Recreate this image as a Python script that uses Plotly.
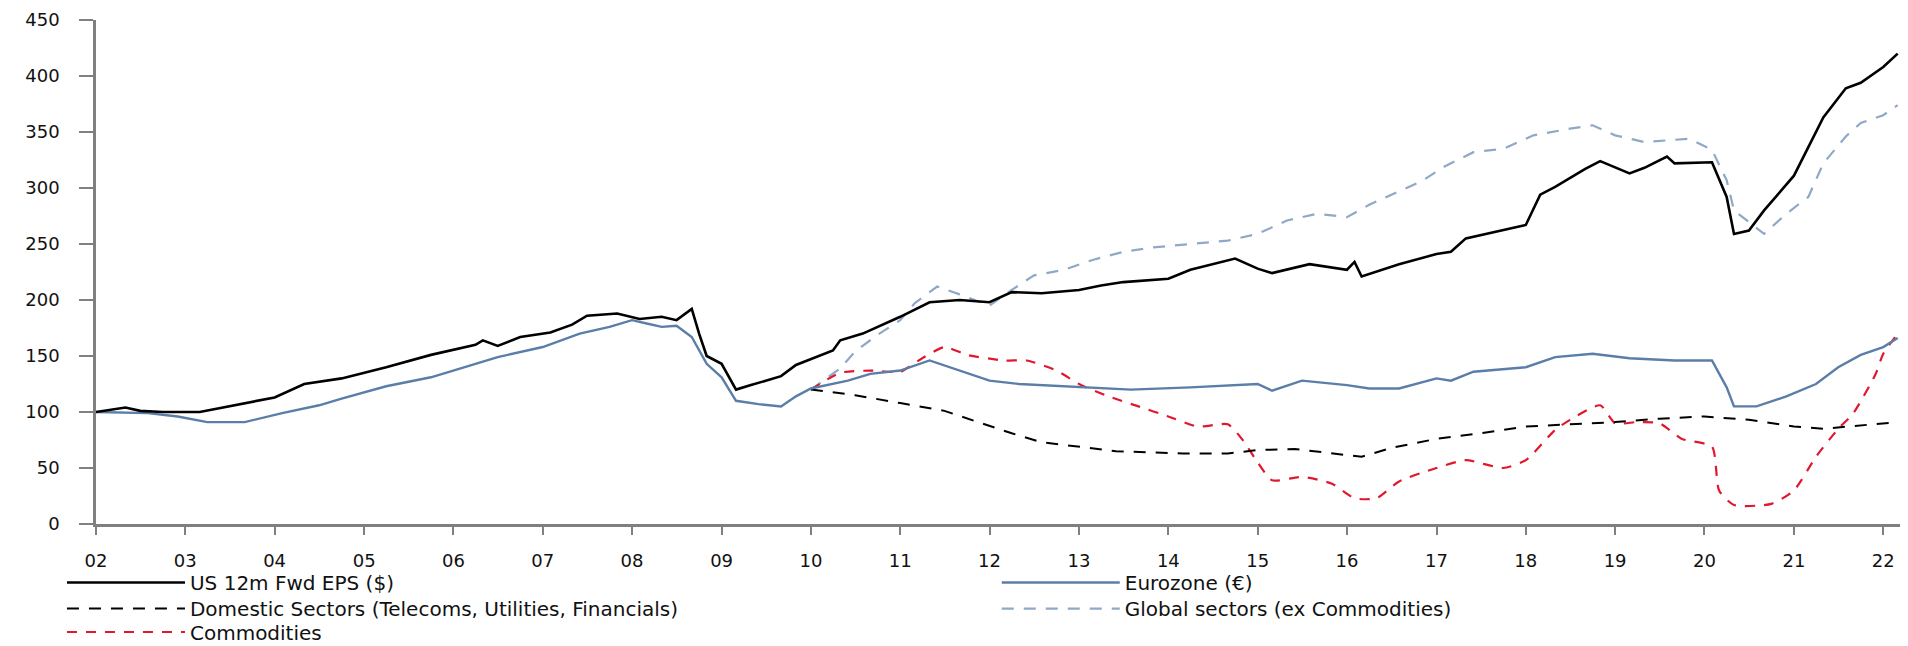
import plotly.graph_objects as go

# ---------------- data ----------------
us_dates = ["2002-01","2002-03","2002-05","2002-07","2002-10","2003-03","2003-07","2004-01","2004-05","2004-10",
            "2005-04","2005-10","2006-04","2006-05","2006-07","2006-10","2007-02","2007-05","2007-07","2007-11",
            "2008-02","2008-05","2008-07","2008-09","2008-10","2008-11","2009-01","2009-03","2009-05","2009-09",
            "2009-11","2010-04","2010-05","2010-08","2011-01","2011-05","2011-09","2012-01","2012-04","2012-08",
            "2013-01","2013-04","2013-07","2014-01","2014-04","2014-10","2015-01","2015-03","2015-08","2016-01",
            "2016-02","2016-03","2016-08","2017-01","2017-03","2017-05","2018-01","2018-03","2018-05","2018-09",
            "2018-11","2019-03","2019-05","2019-08","2019-09","2020-02","2020-04","2020-05","2020-07","2020-09",
            "2021-01","2021-05","2021-08","2021-10","2022-01","2022-03"]
us_vals = [100,102,104,101,100,100,105,113,125,130,
           140,151,160,164,159,167,171,178,186,188,
           183,185,182,192,170,150,143,120,124,132,
           142,155,164,170,185,198,200,198,207,206,
           209,213,216,219,227,237,228,224,232,227,
           234,221,232,241,243,255,267,294,301,317,
           324,313,318,328,322,323,292,259,262,280,
           311,363,389,394,408,420]

ez_dates = ["2002-01","2002-08","2002-12","2003-04","2003-09","2004-02","2004-07","2004-10","2005-04","2005-10",
            "2006-04","2006-07","2007-01","2007-06","2007-10","2008-01","2008-03","2008-05","2008-07","2008-09",
            "2008-11","2009-01","2009-03","2009-06","2009-09","2009-11","2010-01","2010-06","2010-09","2011-01",
            "2011-05","2011-08","2012-01","2012-05","2013-01","2013-08","2014-04","2014-10","2015-01","2015-03",
            "2015-07","2016-01","2016-04","2016-08","2017-01","2017-03","2017-06","2018-01","2018-05","2018-10",
            "2019-03","2019-09","2020-02","2020-04","2020-05","2020-08","2020-12","2021-04","2021-07","2021-10",
            "2022-01","2022-03"]
ez_vals = [100,99,96,91,91,99,106,112,123,131,
           143,149,158,170,176,182,179,176,177,167,
           143,131,110,107,105,114,121,128,134,137,
           146,139,128,125,122,120,122,124,125,119,
           128,124,121,121,130,128,136,140,149,152,
           148,146,146,122,105,105,114,125,140,151,
           158,166]

dom_dates = ["2010-01","2010-07","2011-01","2011-07","2011-11","2012-04","2012-08","2013-01","2013-06","2014-03",
             "2014-09","2015-01","2015-06","2016-03","2016-07","2017-01","2017-07","2018-01","2018-07","2019-01",
             "2019-07","2020-01","2020-07","2021-01","2021-05","2022-01","2022-03"]
dom_vals = [120,115,108,101,92,81,73,69,65,63,
            63,66,67,60,68,76,81,87,89,91,
            94,96,93,87,85,90,91]

glob_dates = ["2010-01","2010-05","2010-07","2010-10","2011-01","2011-03","2011-06","2011-09","2012-01","2012-04",
              "2012-07","2012-11","2013-03","2013-07","2013-11","2014-04","2014-09","2015-01","2015-05","2015-09",
              "2016-01","2016-04","2016-07","2016-11","2017-02","2017-06","2017-10","2018-02","2018-07","2018-10",
              "2019-01","2019-05","2019-11","2020-02","2020-04","2020-05","2020-09","2020-12","2021-03","2021-05",
              "2021-08","2021-10","2022-01","2022-03"]
glob_vals = [120,139,154,169,182,197,212,205,195,209,
             222,227,236,243,247,250,253,259,271,277,
             274,285,294,306,319,332,335,347,353,356,
             347,341,344,334,307,280,259,277,292,322,
             346,358,365,374]

com_dates = ["2010-01","2010-05","2010-09","2011-01","2011-04","2011-07","2011-10","2012-03","2012-06","2012-10",
             "2013-01","2013-05","2013-09","2014-01","2014-05","2014-09","2014-11","2015-01","2015-03","2015-07",
             "2015-11","2016-02","2016-05","2016-08","2017-01","2017-05","2017-10","2018-01","2018-05","2018-07",
             "2018-11","2019-01","2019-04","2019-07","2019-10","2020-02","2020-03","2020-05","2020-10","2021-01",
             "2021-04","2021-07","2021-09","2021-12","2022-01","2022-03"]
com_vals = [120,135,137,136,148,158,151,146,146,137,
            125,114,105,96,87,89,75,55,39,42,
            36,23,23,38,50,57,50,57,84,93,
            106,90,91,90,76,69,30,17,18,30,
            60,85,99,134,152,170]

year_ticks = ["2002-01-01","2003-01-01","2004-01-01","2005-01-01","2006-01-01","2007-01-01","2008-01-01",
              "2009-01-01","2010-01-01","2011-01-01","2012-01-01","2013-01-01","2014-01-01","2015-01-01",
              "2016-01-01","2017-01-01","2018-01-01","2019-01-01","2020-01-01","2021-01-01","2022-01-01"]
year_labels = ["02","03","04","05","06","07","08","09","10","11","12","13","14","15","16","17","18","19","20","21","22"]
y_ticks = [0, 50, 100, 150, 200, 250, 300, 350, 400, 450]

names = ["US 12m Fwd EPS ($)", "Eurozone (\u20ac)", "Domestic Sectors (Telecoms, Utilities, Financials)",
         "Global sectors (ex Commodities)", "Commodities"]

# ---------------- figure ----------------
fig = go.Figure()
fig.add_trace(go.Scatter(x=glob_dates, y=glob_vals, name=names[3], mode="lines", legend="legend4",
                         line=dict(color="#8fa8c8", width=2.2, dash="12px,10px")))
fig.add_trace(go.Scatter(x=com_dates, y=com_vals, name=names[4], mode="lines", legend="legend5",
                         line=dict(color="#e0182e", width=2.2, dash="10px,9px", shape="spline", smoothing=0.6)))
fig.add_trace(go.Scatter(x=dom_dates, y=dom_vals, name=names[2], mode="lines", legend="legend3",
                         line=dict(color="#000000", width=2, dash="12px,10px")))
fig.add_trace(go.Scatter(x=ez_dates, y=ez_vals, name=names[1], mode="lines", legend="legend2",
                         line=dict(color="#5a7ea8", width=2.4)))
fig.add_trace(go.Scatter(x=us_dates, y=us_vals, name=names[0], mode="lines", legend="legend",
                         line=dict(color="#000000", width=2.6)))

axis_font = dict(family="DejaVu Sans", size=18, color="#111111")
leg_font = dict(family="DejaVu Sans", size=20, color="#111111")


def leg(x, y):
    return dict(orientation="v", xref="container", yref="container",
                x=x, xanchor="left", y=y, yanchor="top",
                font=leg_font, itemwidth=118, bgcolor="rgba(0,0,0,0)", borderwidth=0)


# the page body adds an 8px offset, so the figure is 8px smaller than the window
col1, col2 = 0.0284, 0.5204
fig.update_layout(
    width=1900, height=638,
    margin=dict(l=88, r=2, t=12, b=122, autoexpand=False),
    paper_bgcolor="white", plot_bgcolor="white",
    showlegend=True,
    legend=leg(col1, 0.1301),
    legend2=leg(col2, 0.1301),
    legend3=leg(col1, 0.0893),
    legend4=leg(col2, 0.0893),
    legend5=leg(col1, 0.0525),
    xaxis=dict(type="date", range=["2002-01-01", "2022-04-04"], automargin=False,
               tickvals=year_ticks, ticktext=year_labels,
               showgrid=False, zeroline=False,
               showline=True, linecolor="#808080", linewidth=2.5,
               ticks="outside", ticklen=8, tickwidth=1.5, tickcolor="#808080",
               ticklabelstandoff=11, tickfont=axis_font),
    yaxis=dict(range=[0, 450], tickvals=y_ticks, automargin=False,
               showgrid=False, zeroline=False,
               showline=True, linecolor="#808080", linewidth=2.5,
               ticks="outside", ticklen=14, tickwidth=1.5, tickcolor="#808080",
               ticklabelstandoff=16, tickfont=axis_font),
)

fig.write_html("out.html")
